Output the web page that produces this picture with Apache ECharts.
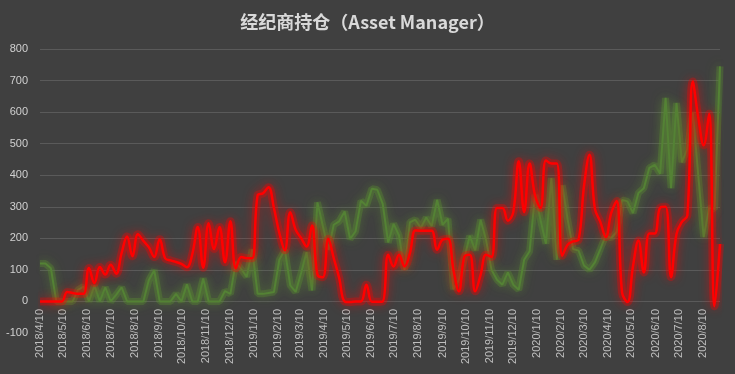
<!DOCTYPE html>
<html>
<head>
<meta charset="utf-8">
<script src="https://cdn.jsdelivr.net/npm/echarts@6/dist/echarts.min.js"></script>
<style>
html,body{margin:0;padding:0;background:#404040;}
#chart{width:735px;height:374px;}
</style>
</head>
<body>
<div id="chart"></div>
<script>
var titleText = '经纪商持仓（Asset Manager）';
var startDate = '2018-04-10';
var endDate = '2020-09-01';
var yTicks = [-100, 0, 100, 200, 300, 400, 500, 600, 700, 800];

// weekly values (every Tuesday from 2018/4/10)
var redSeries = [0,0,0,0,0,30,27,24,24,106,
58,109,85,116,88,153,206,143,213,192,
172,141,197,137,130,125,119,108,150,236,
107,248,166,236,124,254,105,141,137,137,
336,343,362,296,217,162,283,227,201,174,
241,85,77,199,137,74,0,-2,0,0,
53,-1,-1,0,148,111,148,111,153,225,
224,224,224,164,196,199,100,32,141,148,
32,85,148,141,296,296,256,283,444,283,
437,336,296,447,437,437,145,180,190,196,
365,465,294,252,204,280,318,28,-2,111,
193,92,215,215,297,300,77,214,252,273,
697,583,495,595,-15,182];

var greenSeries = [120,120,105,0,0,0,0,37,47,0,
50,0,45,0,21,45,0,0,0,0,
67,99,0,0,0,24,0,54,0,0,
73,0,0,0,33,24,125,102,78,165,
24,24,27,30,132,164,51,30,90,156,
35,314,238,164,243,254,285,198,222,319,
303,357,354,309,187,246,209,100,251,259,
233,266,238,322,243,262,39,69,137,208,
162,259,195,100,69,53,92,53,37,132,
159,338,259,183,391,132,368,259,166,161,
114,100,124,166,209,201,220,322,317,280,
344,359,423,433,405,645,359,629,441,484,
600,400,204,296,293,745];

// daily category axis
function fmt(d){return d.getUTCFullYear()+'/'+(d.getUTCMonth()+1)+'/'+d.getUTCDate();}
var days = [];
var t0 = Date.parse(startDate+'T00:00:00Z');
var t1 = Date.parse(endDate+'T00:00:00Z');
for (var t = t0; t <= t1; t += 86400000) days.push(fmt(new Date(t)));

function toDaily(vals){
  var arr = new Array(days.length).fill(null);
  for (var i = 0; i < vals.length; i++) { var k = i*7; if (k < arr.length) arr[k] = vals[i]; }
  return arr;
}

var gridColor = '#5a5a5a';
var splitColors = yTicks.map(function(v){ return v === yTicks[0] ? 'rgba(0,0,0,0)' : gridColor; });

function glowSeries(vals, color, width, smooth, z){
  return {
    type: 'line', data: toDaily(vals), connectNulls: true, showSymbol: false, smooth: smooth,
    silent: true, z: z,
    lineStyle: {color: color, width: width, shadowColor: color, shadowBlur: 10}
  };
}

var chart = echarts.init(document.getElementById('chart'));
chart.setOption({
  backgroundColor: '#404040',
  animation: false,
  title: {
    text: titleText, left: 'center', top: 8,
    textStyle: {color: '#d9d9d9', fontSize: 18, fontWeight: 'bold', fontFamily: 'Noto Sans CJK SC'}
  },
  grid: {left: 40, right: 15, top: 49, bottom: 41, containLabel: false, outerBoundsMode: 'none'},
  xAxis: {
    type: 'category', data: days, boundaryGap: false,
    axisLine: {show: false, onZero: false},
    axisTick: {show: false},
    splitLine: {show: false},
    axisLabel: {
      rotate: 90, margin: -24, color: '#bfbfbf', fontSize: 11, fontFamily: 'Liberation Sans',
      interval: function(idx, val){ return /\/10$/.test(val); }
    }
  },
  yAxis: {
    type: 'value', min: yTicks[0], max: yTicks[yTicks.length-1], interval: 100,
    axisLine: {show: false}, axisTick: {show: false},
    axisLabel: {color: '#d0d0d0', fontSize: 11, margin: 12, fontFamily: 'Liberation Sans'},
    splitLine: {show: true, lineStyle: {color: splitColors, width: 1}}
  },
  series: [
    glowSeries(greenSeries, 'rgba(90,140,50,0.35)', 7, false, 1),
    {
      type: 'line', data: toDaily(greenSeries), connectNulls: true, showSymbol: false,
      lineStyle: {color: '#548235', width: 2, shadowColor: 'rgba(100,160,50,0.9)', shadowBlur: 12},
      z: 2
    },
    glowSeries(redSeries, 'rgba(255,0,0,0.3)', 8, 0.4, 3),
    {
      type: 'line', data: toDaily(redSeries), connectNulls: true, showSymbol: false, smooth: 0.4,
      lineStyle: {color: '#ff0000', width: 2.5, shadowColor: 'rgba(255,0,0,0.9)', shadowBlur: 12},
      z: 4
    }
  ]
});
</script>
</body>
</html>
